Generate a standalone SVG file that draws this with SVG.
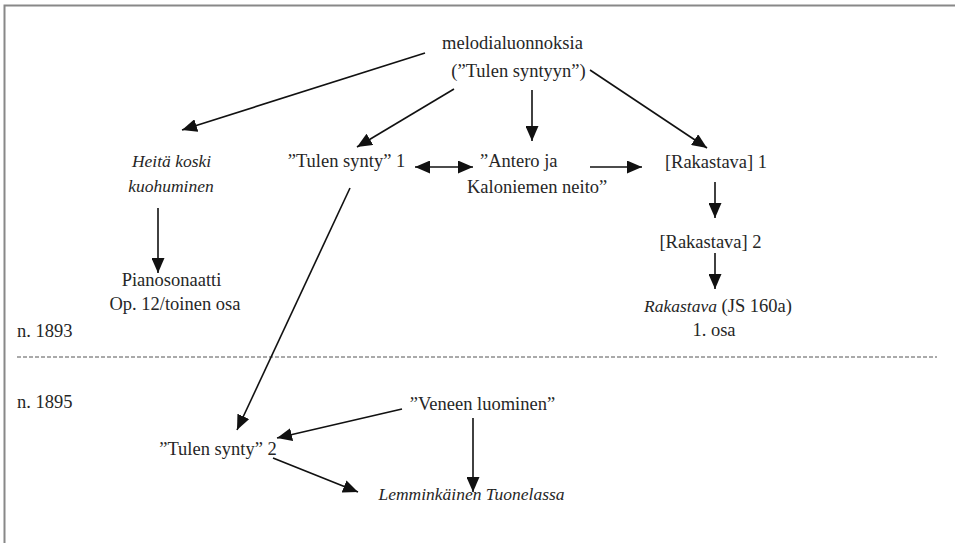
<svg xmlns="http://www.w3.org/2000/svg" width="955" height="543" viewBox="0 0 955 543">
<style>
text{font-family:"Liberation Serif","Times New Roman",serif;font-size:18.5px;fill:#262626;text-anchor:middle}
.it{font-style:italic;font-size:17.5px}
.st{text-anchor:start}
.c line{stroke:#111;stroke-width:1.6;marker-end:url(#ah)}
</style>
<defs>
<marker id="ah" viewBox="0 0 15 13" refX="15" refY="6.5" markerWidth="15" markerHeight="13" markerUnits="userSpaceOnUse" orient="auto-start-reverse">
<path d="M0,0 L15,6.5 L0,13 z" fill="#111"/>
</marker>
</defs>
<rect width="955" height="543" fill="#fff"/>
<g id="frame" stroke="#888" stroke-width="2" fill="none">
<path d="M4.5,543 V5.5 H955"/>
</g>
<line id="divider" x1="17" y1="357" x2="937" y2="357" stroke="#555" stroke-width="1" stroke-dasharray="4 2"/>
<g id="n-melodia"><text x="512.5" y="49">melodialuonnoksia</text><text x="518.5" y="77">(”Tulen syntyyn”)</text></g>
<g id="n-heita"><text class="it" x="171.5" y="167">Heitä koski</text><text class="it" x="171" y="192">kuohuminen</text></g>
<g id="n-tulen1"><text x="346.5" y="167">”Tulen synty” 1</text></g>
<g id="n-antero"><text class="st" x="480" y="167">”Antero ja</text><text class="st" x="467" y="193">Kaloniemen neito”</text></g>
<g id="n-rak1"><text x="716" y="168">[Rakastava] 1</text></g>
<g id="n-rak2"><text x="710.5" y="248">[Rakastava] 2</text></g>
<g id="n-rakjs"><text x="718" y="312"><tspan font-style="italic" font-size="17.5px">Rakastava</tspan> (JS 160a)</text><text x="714" y="336">1. osa</text></g>
<g id="n-piano"><text x="171.5" y="286">Pianosonaatti</text><text x="175" y="310">Op. 12/toinen osa</text></g>
<g id="n-1893"><text class="st" x="17" y="337">n. 1893</text></g>
<g id="n-1895"><text class="st" x="17" y="408">n. 1895</text></g>
<g id="n-veneen"><text x="482.5" y="410">”Veneen luominen”</text></g>
<g id="n-tulen2"><text x="218" y="455">”Tulen synty” 2</text></g>
<g id="n-lemmin"><text class="it" x="471.5" y="500">Lemminkäinen Tuonelassa</text></g>
<g id="connectors" class="c">
<line x1="425" y1="53" x2="182" y2="130"/>
<line x1="454" y1="89" x2="357" y2="147"/>
<line x1="532" y1="90" x2="532" y2="141"/>
<line x1="590" y1="70" x2="707" y2="148"/>
<line x1="415" y1="167" x2="473" y2="167" marker-start="url(#ah)"/>
<line x1="590" y1="167" x2="642" y2="167"/>
<line x1="715" y1="182" x2="715" y2="218"/>
<line x1="715" y1="253" x2="715" y2="289"/>
<line x1="158" y1="208" x2="158" y2="273"/>
<line x1="350" y1="188" x2="237" y2="430"/>
<line x1="402" y1="409" x2="277" y2="438"/>
<line x1="473" y1="418" x2="473" y2="492"/>
<line x1="273" y1="458" x2="358" y2="492"/>
</g>
</svg>
